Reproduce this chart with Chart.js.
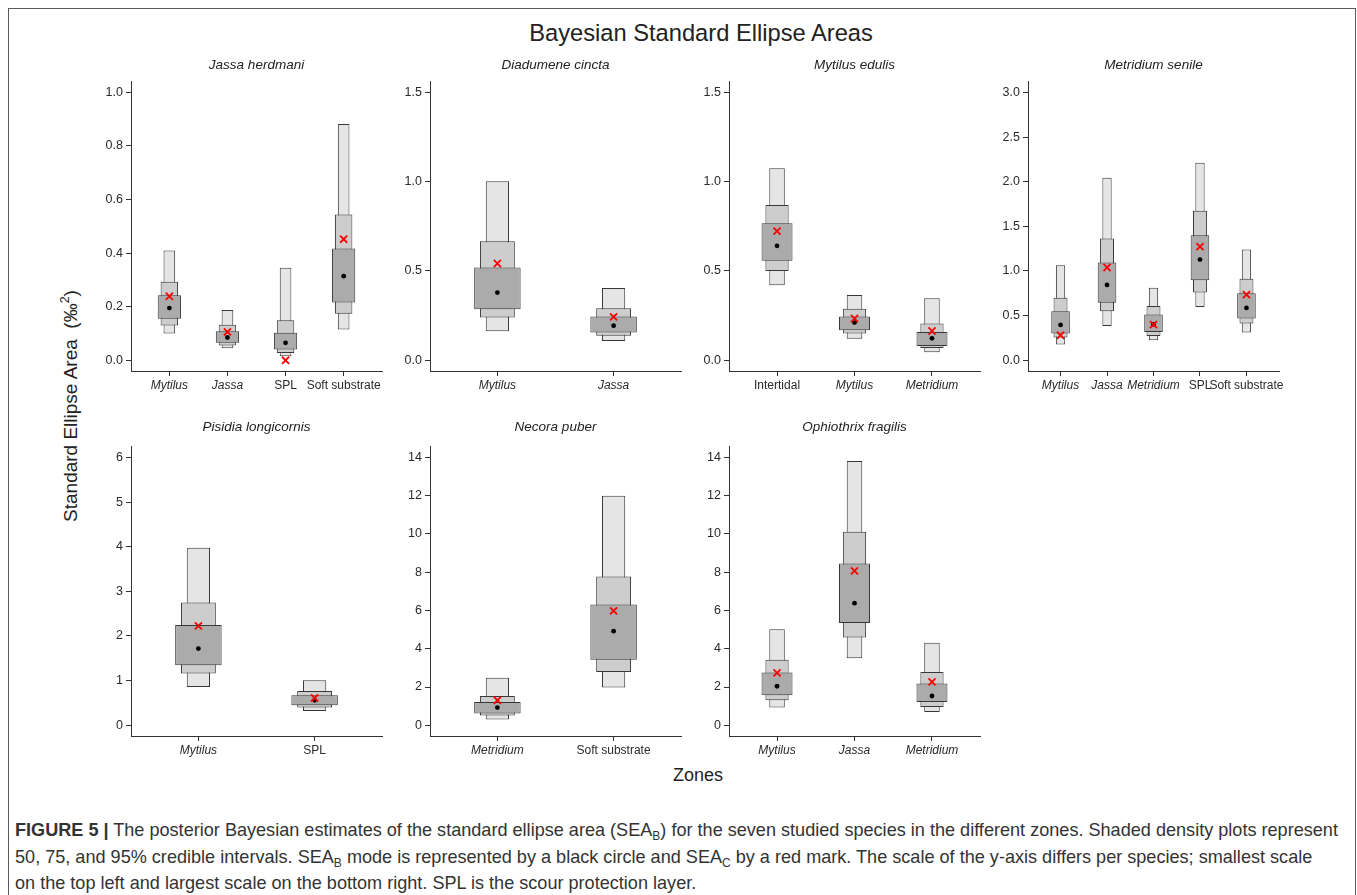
<!DOCTYPE html>
<html>
<head>
<meta charset="utf-8">
<script src="https://cdn.jsdelivr.net/npm/chart.js@4.4.1/dist/chart.umd.min.js"></script>
<style>
  body { margin: 0; background: #fff; font-family: "Liberation Sans", Arial, sans-serif; width: 1357px; height: 895px; overflow: hidden; position: relative; }
  #frame { position: absolute; left: 8px; top: 8px; width: 1348px; height: 950px; border: 1.5px solid #5a5a5a; box-sizing: border-box; }
  #title { position: absolute; left: 701px; top: 20px; transform: translateX(-50%); font-size: 23.7px; line-height: 26px; color: #222; white-space: nowrap; }
  #ylab { position: absolute; left: 70px; top: 406px; transform: translate(-50%, -50%) rotate(-90deg); font-size: 19px; color: #222; white-space: nowrap; }
  #ylab sup { font-size: 12.5px; }
  #xlab { position: absolute; left: 698px; top: 775px; transform: translate(-50%, -50%); font-size: 18px; color: #222; }
  #caption { position: absolute; left: 15px; top: 817px; font-size: 18.1px; line-height: 26.5px; color: #333; white-space: nowrap; }
  #caption sub { font-size: 12px; line-height: 0; vertical-align: -0.3em; }
  canvas { position: absolute; }
</style>
</head>
<body>
<div id="frame"></div>
<div id="title">Bayesian Standard Ellipse Areas</div>
<div id="ylab">Standard Ellipse Area&nbsp;&nbsp;(‰<sup>2</sup>)</div>
<div id="xlab">Zones</div>
<div id="caption">
  <div><b>FIGURE 5 |</b> The posterior Bayesian estimates of the standard ellipse area (SEA<sub>B</sub>) for the seven studied species in the different zones. Shaded density plots represent</div>
  <div>50, 75, and 95% credible intervals. SEA<sub>B</sub> mode is represented by a black circle and SEA<sub>C</sub> by a red mark. The scale of the y-axis differs per species; smallest scale</div>
  <div>on the top left and largest scale on the bottom right. SPL is the scour protection layer.</div>
</div>

<script>
// datos (SEA_B: intervalos 95/75/50 %, moda, SEA_C)
const jassaZones = ['Mytilus', 'Jassa', 'SPL', 'Soft substrate'];
const jassaTicks = [0, 0.2, 0.4, 0.6, 0.8, 1.0];
const jassaCI95 = [[0.100, 0.410], [0.045, 0.188], [0.015, 0.345], [0.115, 0.882]];
const jassaCI75 = [[0.130, 0.293], [0.055, 0.133], [0.027, 0.149], [0.174, 0.544]];
const jassaCI50 = [[0.155, 0.243], [0.065, 0.108], [0.040, 0.103], [0.216, 0.417]];
const jassaMode = [0.195, 0.085, 0.065, 0.314];
const jassaSEAc = [0.239, 0.106, 0.000, 0.452];

const diadumeneZones = ['Mytilus', 'Jassa'];
const diadumeneTicks = [0, 0.5, 1.0, 1.5];
const diadumeneCI95 = [[0.163, 1.003], [0.108, 0.405]];
const diadumeneCI75 = [[0.239, 0.667], [0.138, 0.291]];
const diadumeneCI50 = [[0.286, 0.520], [0.155, 0.245]];
const diadumeneMode = [0.379, 0.194];
const diadumeneSEAc = [0.542, 0.243];

const mytilusZones = ['Intertidal', 'Mytilus', 'Metridium'];
const mytilusTicks = [0, 0.5, 1.0, 1.5];
const mytilusCI95 = [[0.420, 1.076], [0.121, 0.366], [0.045, 0.348]];
const mytilusCI75 = [[0.500, 0.869], [0.150, 0.288], [0.069, 0.206]];
const mytilusCI50 = [[0.557, 0.768], [0.168, 0.245], [0.080, 0.159]];
const mytilusMode = [0.641, 0.211, 0.123];
const mytilusSEAc = [0.723, 0.234, 0.164];

const metridiumZones = ['Mytilus', 'Jassa', 'Metridium', 'SPL', 'Soft substrate'];
const metridiumTicks = [0, 0.5, 1.0, 1.5, 2.0, 2.5, 3.0];
const metridiumCI95 = [[0.176, 1.065], [0.385, 2.043], [0.224, 0.811], [0.598, 2.211], [0.310, 1.240]];
const metridiumCI75 = [[0.254, 0.699], [0.549, 1.363], [0.273, 0.609], [0.758, 1.674], [0.411, 0.912]];
const metridiumCI50 = [[0.299, 0.549], [0.643, 1.095], [0.317, 0.512], [0.897, 1.400], [0.467, 0.751]];
const metridiumMode = [0.396, 0.844, 0.403, 1.128, 0.586];
const metridiumSEAc = [0.280, 1.039, 0.400, 1.273, 0.736];

const pisidiaZones = ['Mytilus', 'SPL'];
const pisidiaTicks = [0, 1, 2, 3, 4, 5, 6];
const pisidiaCI95 = [[0.860, 3.974], [0.321, 1.009]];
const pisidiaCI75 = [[1.158, 2.750], [0.396, 0.769]];
const pisidiaCI50 = [[1.345, 2.248], [0.448, 0.672]];
const pisidiaMode = [1.718, 0.560];
const pisidiaSEAc = [2.226, 0.612];

const necoraZones = ['Metridium', 'Soft substrate'];
const necoraTicks = [0, 2, 4, 6, 8, 10, 12, 14];
const necoraCI95 = [[0.296, 2.49], [1.97, 11.99]];
const necoraCI75 = [[0.505, 1.535], [2.79, 7.77]];
const necoraCI50 = [[0.610, 1.220], [3.43, 6.31]];
const necoraMode = [0.924, 4.92];
const necoraSEAc = [1.307, 5.98];

const ophiothrixZones = ['Mytilus', 'Jassa', 'Metridium'];
const ophiothrixTicks = [0, 2, 4, 6, 8, 10, 12, 14];
const ophiothrixCI95 = [[0.924, 5.020], [3.50, 13.81], [0.697, 4.320]];
const ophiothrixCI75 = [[1.310, 3.420], [4.59, 10.11], [0.960, 2.790]];
const ophiothrixCI50 = [[1.570, 2.755], [5.35, 8.46], [1.220, 2.180]];
const ophiothrixMode = [2.04, 6.38, 1.53];
const ophiothrixSEAc = [2.74, 8.07, 2.265];

const speciesTitles = ['Jassa herdmani', 'Diadumene cincta', 'Mytilus edulis', 'Metridium senile',
  'Pisidia longicornis', 'Necora puber', 'Ophiothrix fragilis'];
const italicZones = ['Mytilus', 'Jassa', 'Metridium'];

const panels = [
  { zones: jassaZones, ticks: jassaTicks, ci95: jassaCI95, ci75: jassaCI75, ci50: jassaCI50, mode: jassaMode, seaC: jassaSEAc },
  { zones: diadumeneZones, ticks: diadumeneTicks, ci95: diadumeneCI95, ci75: diadumeneCI75, ci50: diadumeneCI50, mode: diadumeneMode, seaC: diadumeneSEAc },
  { zones: mytilusZones, ticks: mytilusTicks, ci95: mytilusCI95, ci75: mytilusCI75, ci50: mytilusCI50, mode: mytilusMode, seaC: mytilusSEAc },
  { zones: metridiumZones, ticks: metridiumTicks, ci95: metridiumCI95, ci75: metridiumCI75, ci50: metridiumCI50, mode: metridiumMode, seaC: metridiumSEAc },
  { zones: pisidiaZones, ticks: pisidiaTicks, ci95: pisidiaCI95, ci75: pisidiaCI75, ci50: pisidiaCI50, mode: pisidiaMode, seaC: pisidiaSEAc },
  { zones: necoraZones, ticks: necoraTicks, ci95: necoraCI95, ci75: necoraCI75, ci50: necoraCI50, mode: necoraMode, seaC: necoraSEAc },
  { zones: ophiothrixZones, ticks: ophiothrixTicks, ci95: ophiothrixCI95, ci75: ophiothrixCI75, ci50: ophiothrixCI50, mode: ophiothrixMode, seaC: ophiothrixSEAc },
];

// layout de los paneles (px)
const FONT = '"Liberation Sans", Arial, sans-serif';
const AXIS_X = [131, 430, 729, 1028, 131, 430, 729];
const CANVAS_TOP = [48, 48, 48, 48, 413, 413, 413];
const Y_W = 52, AREA_W = 251, TOP_H = 33.7, AREA_H = 289.3, X_H = 30;

function makePanel(p, i) {
  const canvas = document.createElement('canvas');
  const w = Y_W * 2 + AREA_W;
  const h = Math.round(TOP_H + AREA_H + X_H);
  canvas.width = w; canvas.height = h;
  canvas.style.left = (AXIS_X[i] - Y_W) + 'px';
  canvas.style.top = CANVAS_TOP[i] + 'px';
  canvas.style.width = w + 'px';
  canvas.style.height = h + 'px';
  document.body.appendChild(canvas);

  const n = p.zones.length;
  const top = p.ticks[p.ticks.length - 1];
  const dec = p.ticks.every(Number.isInteger) ? 0 : 1;

  const bars = (vals, fill, pct) => ({
    type: 'bar',
    data: vals.map((v, k) => ({ x: k + 1, y: v })),
    backgroundColor: fill,
    borderColor: '#383838',
    borderWidth: 1,
    borderSkipped: false,
    grouped: false,
    barPercentage: pct,
    categoryPercentage: 1
  });
  const points = (vals, extra) => Object.assign({
    type: 'scatter',
    data: vals.map((v, k) => ({ x: k + 1, y: v }))
  }, extra);

  new Chart(canvas, {
    type: 'bar',
    data: {
      datasets: [
        points(p.seaC, { pointStyle: 'crossRot', pointRadius: 5, borderColor: '#ff0000', borderWidth: 1.8 }),
        points(p.mode, { pointStyle: 'circle', pointRadius: 2.4, backgroundColor: '#000', borderWidth: 0 }),
        bars(p.ci50, '#ababab', 0.4),
        bars(p.ci75, '#cdcdcd', 0.3),
        bars(p.ci95, '#e5e5e5', 0.2)
      ]
    },
    options: {
      responsive: false,
      animation: false,
      events: [],
      layout: { padding: { left: 0, right: Y_W, top: 0, bottom: 0 } },
      plugins: {
        legend: { display: false },
        tooltip: { enabled: false },
        title: {
          display: true,
          fullSize: false, // centrado sobre el area del grafico
          text: speciesTitles[i],
          color: '#222',
          font: { family: FONT, size: 13.5, style: 'italic', weight: 'normal', lineHeight: 1.2 },
          padding: i < 4 ? { top: 9, bottom: 8.5 } : { top: 6, bottom: 11.5 }
        }
      },
      scales: {
        x: {
          type: 'linear',
          offset: false,
          min: 0.5 - 0.04 * n,
          max: n + 0.5 + 0.04 * n,
          afterBuildTicks: s => { s.ticks = p.zones.map((z, k) => ({ value: k + 1 })); },
          afterFit: s => { s.height = X_H; },
          grid: { offset: false, drawOnChartArea: false, drawTicks: true, tickLength: 5, color: '#333', tickColor: '#333' },
          border: { display: true, color: '#333', width: 1 },
          ticks: {
            autoSkip: false, maxRotation: 0, minRotation: 0, padding: 2, color: '#2a2a2a',
            callback: (v, k) => p.zones[k],
            font: c => ({ family: FONT, size: 12, style: italicZones.includes(p.zones[c.index]) ? 'italic' : 'normal' })
          }
        },
        y: {
          type: 'linear',
          min: -0.04 * top,
          max: 1.04 * top,
          afterBuildTicks: s => { s.ticks = p.ticks.map(v => ({ value: v })); },
          afterFit: s => { s.width = Y_W; },
          grid: { drawOnChartArea: false, drawTicks: true, tickLength: 5, color: '#333', tickColor: '#333' },
          border: { display: true, color: '#333', width: 1 },
          ticks: {
            padding: 3, color: '#2a2a2a',
            font: { family: FONT, size: 12.5 },
            callback: v => Number(v).toFixed(dec)
          }
        }
      }
    }
  });
}

document.addEventListener('DOMContentLoaded', () => {
  panels.forEach(makePanel);
});
</script>
</body>
</html>
